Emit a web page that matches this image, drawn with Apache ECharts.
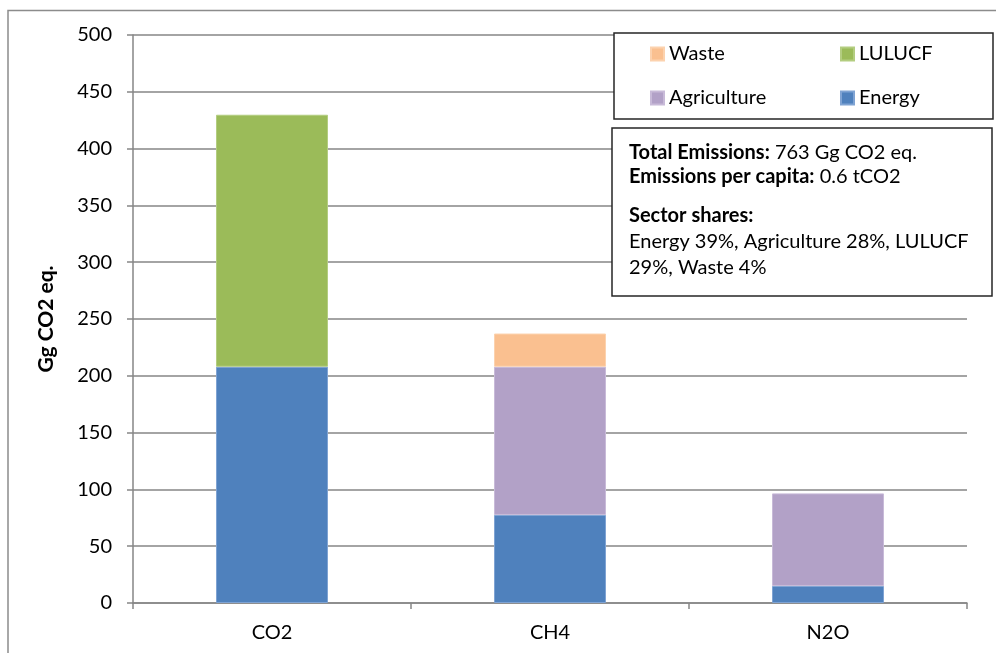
<!DOCTYPE html>
<html>
<head>
<meta charset="utf-8">
<script src="https://cdn.jsdelivr.net/npm/echarts@6/dist/echarts.min.js"></script>
<style>html,body{margin:0;padding:0;background:#fff}#c{width:996px;height:653px}</style>
</head>
<body>
<div id="c"></div>
<script>
const categories = ['CO2', 'CH4', 'N2O'];
const energy = [208, 77.5, 15];
const agriculture = [null, 130.5, 81.5];
const lulucf = [221.8, null, null];
const waste = [null, 29.2, null];
const yTicks = [0, 50, 100, 150, 200, 250, 300, 350, 400, 450, 500];
const infoLines = [
  ['Total Emissions:', ' 763 Gg CO2 eq.'],
  ['Emissions per capita:', ' 0.6 tCO2'],
  ['Sector shares:', ''],
  ['', 'Energy 39%, Agriculture 28%, LULUCF'],
  ['', '29%, Waste 4%']
];

const FONT = 'Lato, "Open Sans", sans-serif';
const FS = 20;
const colors = { Energy: '#4F81BD', Agriculture: '#B2A1C7', LULUCF: '#9BBB59', Waste: '#FAC090' };
const borders = { Energy: '#7FA3D3', Agriculture: '#C8BAD8', LULUCF: '#B3CD80', Waste: '#FCD2AE' };

function series(name, data) {
  return {
    name, type: 'bar', stack: 'total', data,
    barWidth: 112,
    itemStyle: { color: colors[name], borderColor: borders[name], borderWidth: 1 },
    emphasis: { disabled: true }
  };
}

function legend(name, left, top) {
  return {
    data: [name], left, top, padding: 0, icon: 'rect', itemWidth: 13, itemHeight: 13, itemGap: 6,
    selectedMode: false, z: 10,
    textStyle: { fontFamily: FONT, fontSize: FS, color: '#000', lineHeight: 20 }
  };
}

const lineY = [153, 177, 216, 242, 268];
const infoGraphics = infoLines.map((l, i) => ({
  type: 'text', x: 629, y: lineY[i], z: 11,
  style: {
    text: (l[0] ? '{b|' + l[0] + '}' : '') + (l[1] ? '{n|' + l[1] + '}' : ''),
    verticalAlign: 'middle',
    rich: {
      b: { fontFamily: FONT, fontSize: FS, fontWeight: 'bold', fill: '#000' },
      n: { fontFamily: FONT, fontSize: FS, fill: '#000' }
    }
  }
}));

const chart = echarts.init(document.getElementById('c'));
chart.setOption({
  animation: false,
  backgroundColor: '#fff',
  grid: { left: 133, right: 29, top: 35, bottom: 50 },
  legend: [
    legend('Waste', 650, 44),
    legend('LULUCF', 840, 44),
    legend('Agriculture', 650, 88),
    legend('Energy', 840, 88)
  ],
  xAxis: {
    type: 'category', data: categories,
    axisLine: { lineStyle: { color: '#868686', width: 1.5 } },
    axisTick: { show: true, length: 6, alignWithLabel: false, lineStyle: { color: '#868686', width: 1.5 } },
    axisLabel: { fontFamily: FONT, fontSize: FS, color: '#000', margin: 20 }
  },
  yAxis: {
    type: 'value', min: 0, max: 500, interval: 50,
    name: 'Gg CO2 eq.', nameLocation: 'middle', nameGap: 76, nameRotate: 90,
    nameTextStyle: { fontFamily: FONT, fontSize: 21, fontWeight: 'bold', color: '#000' },
    axisLine: { show: true, lineStyle: { color: '#868686', width: 1.5 } },
    axisTick: { show: true, length: 6, lineStyle: { color: '#868686', width: 1.5 } },
    axisLabel: {
      fontFamily: FONT, fontSize: FS, color: '#000', margin: 21,
      formatter: v => yTicks.includes(v) ? String(v) : ''
    },
    splitLine: { lineStyle: { color: '#868686', width: 1.5 } }
  },
  series: [
    series('Energy', energy),
    series('Agriculture', agriculture),
    series('LULUCF', lulucf),
    series('Waste', waste)
  ],
  graphic: {
    elements: [
      { type: 'polyline', shape: { points: [[8, 653], [8, 10.5], [996, 10.5]] }, style: { stroke: '#8C8C8C', lineWidth: 1.5, fill: null }, silent: true, z: 1 },
      { type: 'rect', shape: { x: 614, y: 33, width: 379, height: 86 }, style: { stroke: '#262626', lineWidth: 1.5, fill: '#fff' }, z: 5, silent: true },
      { type: 'rect', shape: { x: 612, y: 128, width: 380, height: 168 }, style: { stroke: '#262626', lineWidth: 1.5, fill: '#fff' }, z: 5, silent: true },
      ...infoGraphics
    ]
  }
});
</script>
</body>
</html>
